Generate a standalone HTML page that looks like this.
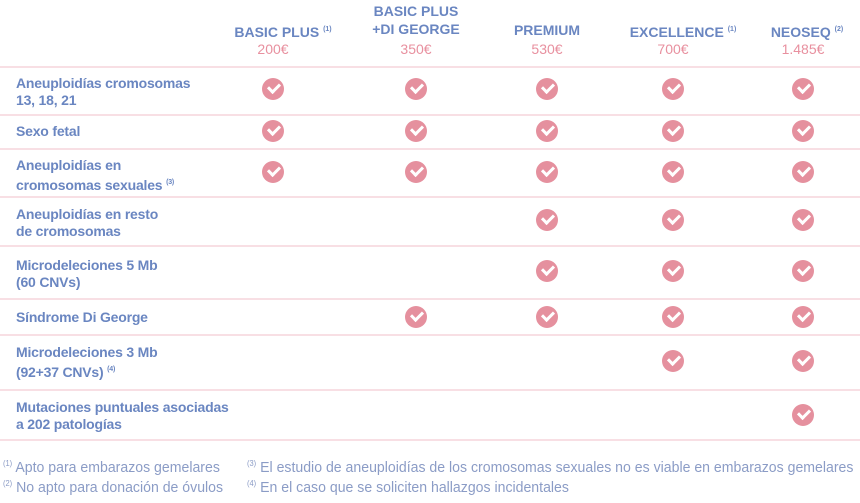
<!DOCTYPE html>
<html><head><meta charset="utf-8"><style>
body{margin:0;width:860px;height:503px;background:#fff;position:relative;overflow:hidden;font-family:"Liberation Sans",sans-serif;}
.a{position:absolute}
.h{color:#6a86c1;font-weight:bold;font-size:14px;text-align:center;width:140px;line-height:18px}
.p{color:#e8909f;font-size:14px;text-align:center;width:140px}
.l{color:#6a86c1;font-weight:bold;font-size:14px;left:16px;line-height:17px;letter-spacing:-0.2px}
sup{font-size:7px;vertical-align:6px}
.ln{position:absolute;left:0;width:860px;height:2px;background:#f8dfe4}
.c{position:absolute;width:22px;height:22px;border-radius:50%;background:#e5909e}
.c:after{content:"";position:absolute;left:6px;top:5px;width:9px;height:5px;border-left:3px solid #fff;border-bottom:3px solid #fff;transform:rotate(-45deg)}
.f{color:#8b9cc6;font-size:15px;transform:scaleX(0.94);transform-origin:0 0;white-space:nowrap}
.f sup{font-size:8px}
</style></head><body>
<div class="a h" style="left:213px;top:21px">BASIC PLUS <sup>(1)</sup></div>
<div class="a h" style="left:346px;top:2px">BASIC PLUS<br>+DI GEORGE</div>
<div class="a h" style="left:477px;top:21px">PREMIUM</div>
<div class="a h" style="left:613px;top:21px">EXCELLENCE <sup>(1)</sup></div>
<div class="a h" style="left:737px;top:21px">NEOSEQ <sup>(2)</sup></div>
<div class="a p" style="left:203px;top:41px">200€</div>
<div class="a p" style="left:346px;top:41px">350€</div>
<div class="a p" style="left:477px;top:41px">530€</div>
<div class="a p" style="left:603px;top:41px">700€</div>
<div class="a p" style="left:733px;top:41px">1.485€</div>

<div class="ln" style="top:66px"></div>
<div class="ln" style="top:114px"></div>
<div class="ln" style="top:148px"></div>
<div class="ln" style="top:196px"></div>
<div class="ln" style="top:245px"></div>
<div class="ln" style="top:298px"></div>
<div class="ln" style="top:334px"></div>
<div class="ln" style="top:389px"></div>
<div class="ln" style="top:439px"></div>

<div class="a l" style="top:75px">Aneuploidías cromosomas<br>13, 18, 21</div>
<div class="a l" style="top:123px">Sexo fetal</div>
<div class="a l" style="top:157px">Aneuploidías en<br>cromosomas sexuales <sup>(3)</sup></div>
<div class="a l" style="top:206px">Aneuploidías en resto<br>de cromosomas</div>
<div class="a l" style="top:257px">Microdeleciones 5 Mb<br>(60 CNVs)</div>
<div class="a l" style="top:309px">Síndrome Di George</div>
<div class="a l" style="top:344px">Microdeleciones 3 Mb<br>(92+37 CNVs) <sup>(4)</sup></div>
<div class="a l" style="top:399px">Mutaciones puntuales asociadas<br>a 202 patologías</div>

<div class="c" style="left:262px;top:78px"></div><div class="c" style="left:405px;top:78px"></div><div class="c" style="left:536px;top:78px"></div><div class="c" style="left:662px;top:78px"></div><div class="c" style="left:792px;top:78px"></div>
<div class="c" style="left:262px;top:120px"></div><div class="c" style="left:405px;top:120px"></div><div class="c" style="left:536px;top:120px"></div><div class="c" style="left:662px;top:120px"></div><div class="c" style="left:792px;top:120px"></div>
<div class="c" style="left:262px;top:161px"></div><div class="c" style="left:405px;top:161px"></div><div class="c" style="left:536px;top:161px"></div><div class="c" style="left:662px;top:161px"></div><div class="c" style="left:792px;top:161px"></div>
<div class="c" style="left:536px;top:209px"></div><div class="c" style="left:662px;top:209px"></div><div class="c" style="left:792px;top:209px"></div>
<div class="c" style="left:536px;top:260px"></div><div class="c" style="left:662px;top:260px"></div><div class="c" style="left:792px;top:260px"></div>
<div class="c" style="left:405px;top:306px"></div><div class="c" style="left:536px;top:306px"></div><div class="c" style="left:662px;top:306px"></div><div class="c" style="left:792px;top:306px"></div>
<div class="c" style="left:662px;top:350px"></div><div class="c" style="left:792px;top:350px"></div>
<div class="c" style="left:792px;top:404px"></div>

<div class="a f" style="left:3px;top:459px"><sup>(1)</sup> Apto para embarazos gemelares</div>
<div class="a f" style="left:3px;top:479px"><sup>(2)</sup> No apto para donación de óvulos</div>
<div class="a f" style="left:247px;top:459px"><sup>(3)</sup> El estudio de aneuploidías de los cromosomas sexuales no es viable en embarazos gemelares</div>
<div class="a f" style="left:247px;top:479px"><sup>(4)</sup> En el caso que se soliciten hallazgos incidentales</div>
</body></html>
